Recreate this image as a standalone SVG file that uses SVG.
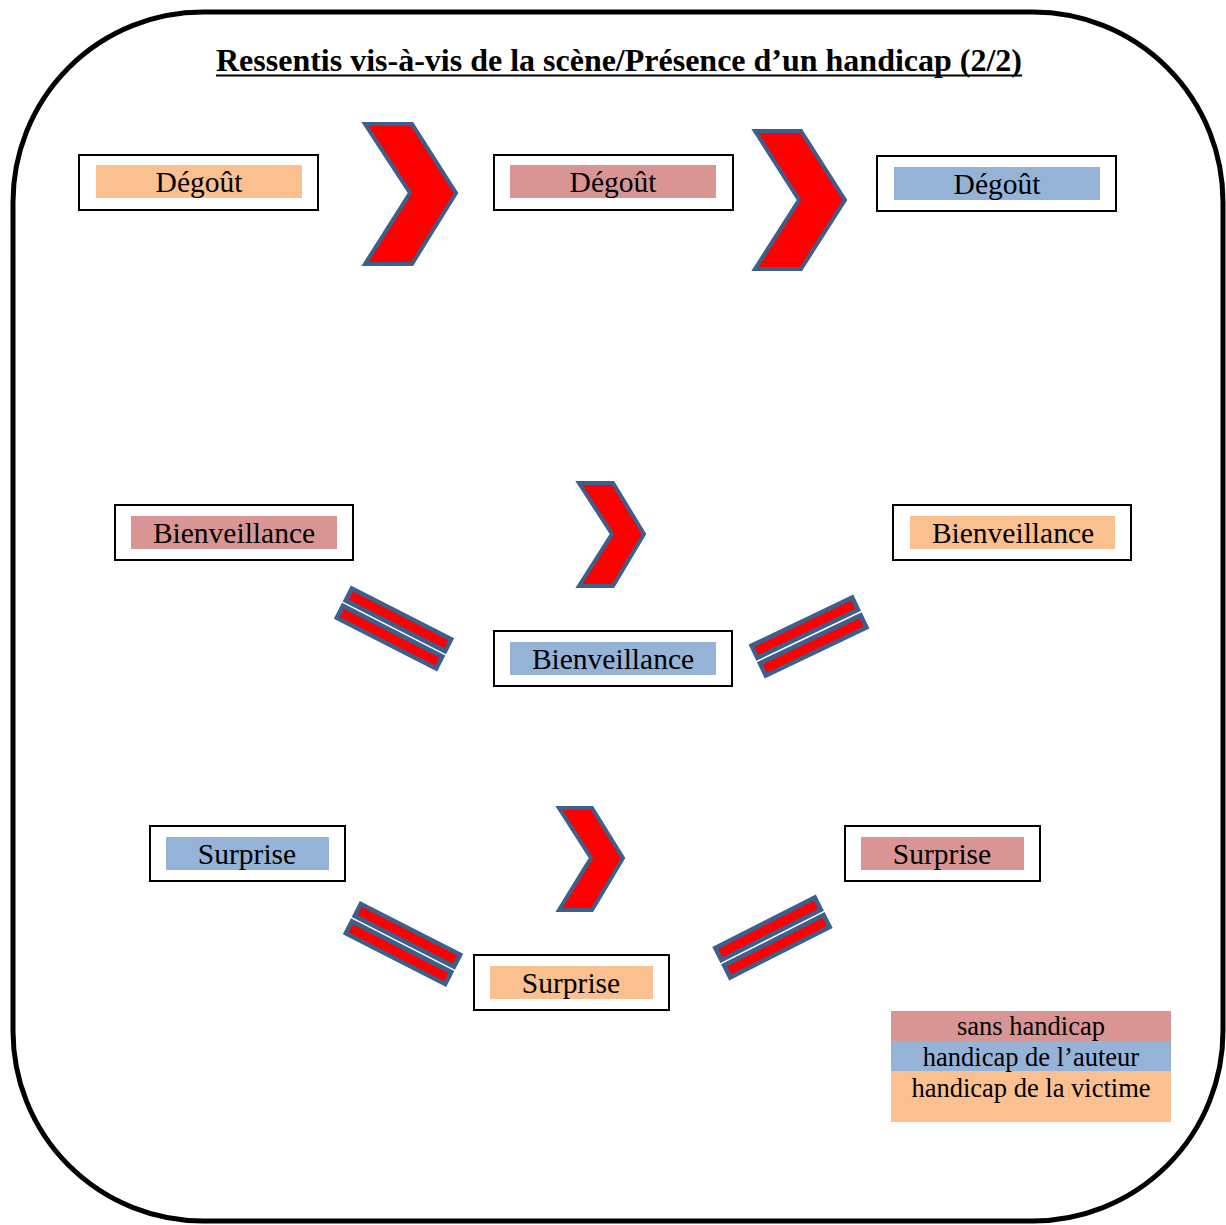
<svg xmlns="http://www.w3.org/2000/svg" width="1226" height="1225" viewBox="0 0 1226 1225">
<style>
.frame{fill:#fff;stroke:#000;stroke-width:5}
.box{fill:#fff;stroke:#000;stroke-width:2}
.pink{fill:#D99594}
.blue{fill:#95B3D7}
.orange{fill:#FAC090}
.lbl{font-family:"Liberation Serif","Times New Roman",serif;font-size:29.5px;fill:#000;text-anchor:middle}
.leg{font-family:"Liberation Serif","Times New Roman",serif;font-size:26.5px;fill:#000;text-anchor:middle}
.title{font-family:"Liberation Serif","Times New Roman",serif;font-size:32px;font-weight:bold;fill:#000;text-anchor:middle}
.chev{fill:#FF0000;stroke:#3C5F8C;stroke-width:4;stroke-linejoin:miter}
.bar{fill:#FF0000;stroke:#3C5F8C;stroke-width:4.5}
</style>
<defs>
<g id="eq">
<rect class="bar" x="-55.75" y="-16.5" width="111.5" height="13.5"/>
<rect class="bar" x="-55.75" y="3" width="111.5" height="13.5"/>
</g>
</defs>
<rect class="frame" x="13" y="12" width="1210" height="1209" rx="190" ry="190"/>
<g id="title">
<text class="title" x="619" y="71" textLength="806" lengthAdjust="spacingAndGlyphs">Ressentis vis-à-vis de la scène/Présence d’un handicap (2/2)</text>
<line x1="216" y1="75.5" x2="1022" y2="75.5" stroke="#000" stroke-width="2"/>
</g>

<g id="n-degout-1"><rect class="box" x="79" y="155" width="239" height="55"/><rect class="orange" x="96" y="165" width="206" height="33"/><text class="lbl" x="199" y="192">Dégoût</text></g>
<g id="n-degout-2"><rect class="box" x="494" y="155" width="239" height="55"/><rect class="pink" x="510" y="165" width="206" height="33"/><text class="lbl" x="613" y="192">Dégoût</text></g>
<g id="n-degout-3"><rect class="box" x="877" y="156" width="239" height="55"/><rect class="blue" x="894" y="167" width="206" height="33"/><text class="lbl" x="997" y="194">Dégoût</text></g>

<g id="n-bien-1"><rect class="box" x="115" y="505" width="238" height="55"/><rect class="pink" x="131" y="516" width="206" height="33"/><text class="lbl" x="234" y="543">Bienveillance</text></g>
<g id="n-bien-2"><rect class="box" x="893" y="505" width="238" height="55"/><rect class="orange" x="910" y="516" width="205" height="33"/><text class="lbl" x="1013" y="543">Bienveillance</text></g>
<g id="n-bien-3"><rect class="box" x="494" y="631" width="238" height="55"/><rect class="blue" x="510" y="642" width="206" height="33"/><text class="lbl" x="613" y="669">Bienveillance</text></g>

<g id="n-surp-1"><rect class="box" x="150" y="826" width="195" height="55"/><rect class="blue" x="166" y="837" width="163" height="33"/><text class="lbl" x="247" y="864">Surprise</text></g>
<g id="n-surp-2"><rect class="box" x="845" y="826" width="195" height="55"/><rect class="pink" x="861" y="837" width="163" height="33"/><text class="lbl" x="942" y="864">Surprise</text></g>
<g id="n-surp-3"><rect class="box" x="474" y="955" width="195" height="55"/><rect class="orange" x="490" y="966" width="163" height="33"/><text class="lbl" x="571" y="993">Surprise</text></g>

<g id="connectors">
<polygon class="chev" points="365,124 412,124 456,193 412,264 365,264 410,193"/>
<polygon class="chev" points="755,131 801,131 845,200 801,269 755,269 799,200"/>
<polygon class="chev" points="579,483 613,483 644,534 613,586 579,586 612,534"/>
<polygon class="chev" points="559,808 592,808 623,858 592,910 559,910 591,858"/>
<use href="#eq" transform="translate(394,628.5) rotate(27)"/>
<use href="#eq" transform="translate(809,636.5) rotate(-25.5)"/>
<use href="#eq" transform="translate(403,944) rotate(27)"/>
<use href="#eq" transform="translate(772.5,937.5) rotate(-26.8)"/>
</g>

<g id="legend">
<rect class="pink" x="891" y="1011" width="280" height="30"/>
<rect class="blue" x="891" y="1041" width="280" height="30"/>
<rect class="orange" x="891" y="1071" width="280" height="51"/>
<text class="leg" x="1031" y="1035">sans handicap</text>
<text class="leg" x="1031" y="1066">handicap de l’auteur</text>
<text class="leg" x="1031" y="1097">handicap de la victime</text>
</g>
</svg>
